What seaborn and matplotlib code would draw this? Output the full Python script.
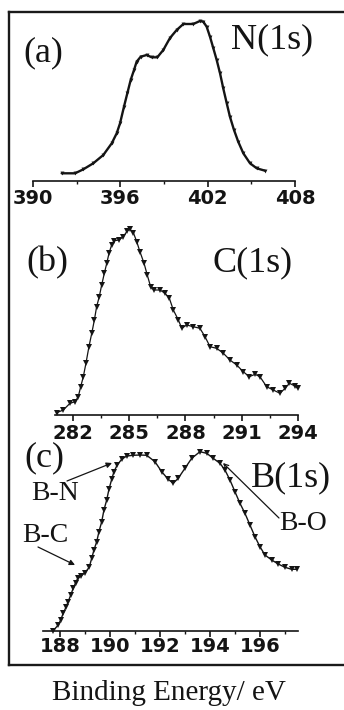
import numpy as np
import pandas as pd
import matplotlib
matplotlib.use("Agg")
import matplotlib.pyplot as plt
from matplotlib.ticker import MultipleLocator
import seaborn as sns

# ---------------- data ----------------
n1s_energy = [391.97, 392.89, 393.46, 394.14, 394.83, 395.41, 395.75, 395.98, 396.25, 396.48,
              396.71, 396.94, 397.12, 397.40, 397.81, 398.15, 398.54, 398.95, 399.41, 399.87,
              400.33, 401.01, 401.47, 401.70, 401.93, 402.16, 402.39, 402.62, 402.85, 403.07,
              403.31, 403.53, 403.81, 404.10, 404.45, 404.91, 405.37, 405.94]
n1s_counts = [7.7, 7.7, 11.7, 17.7, 26.0, 37.7, 47.7, 57.7, 74.3, 87.7,
              101.0, 111.0, 119.3, 124.3, 126.0, 123.7, 123.7, 131.0, 143.0, 151.0,
              157.0, 157.0, 160.0, 159.3, 154.3, 144.3, 132.7, 121.0, 107.7, 92.7,
              77.7, 64.3, 51.0, 39.3, 27.7, 17.7, 12.7, 10.3]

c1s_energy = [281.13, 281.48, 281.84, 282.11, 282.28, 282.41, 282.55, 282.69, 282.85, 283.00,
              283.14, 283.26, 283.40, 283.53, 283.67, 283.80, 283.92, 284.06, 284.19, 284.45,
              284.68, 284.90, 285.04, 285.22, 285.40, 285.57, 285.79, 285.96, 286.14, 286.32,
              286.64, 286.91, 287.14, 287.35, 287.62, 287.80, 288.06, 288.42, 288.77, 289.04,
              289.31, 289.66, 290.02, 290.37, 290.73, 291.08, 291.40, 291.71, 291.97, 292.33,
              292.68, 293.04, 293.31, 293.54, 293.84, 293.98]
c1s_counts = [2.3, 5.0, 11.7, 13.3, 18.3, 28.3, 38.3, 51.7, 68.3, 81.7,
              95.0, 108.3, 118.3, 130.0, 141.7, 151.7, 161.7, 170.0, 174.3, 175.0,
              178.3, 184.3, 185.7, 182.3, 173.3, 163.3, 151.7, 140.0, 128.3, 125.0,
              125.0, 121.7, 116.7, 105.0, 95.0, 86.7, 90.0, 88.3, 86.7, 78.3,
              68.3, 66.7, 61.7, 55.0, 50.0, 43.3, 38.3, 40.7, 38.3, 28.3,
              25.0, 21.7, 26.7, 31.7, 29.0, 26.7]

b1s_energy = [187.73, 187.93, 188.03, 188.13, 188.24, 188.33, 188.43, 188.53, 188.63, 188.71,
              188.84, 189.00, 189.17, 189.27, 189.36, 189.47, 189.56, 189.67, 189.76, 189.87,
              189.96, 190.07, 190.16, 190.29, 190.47, 190.67, 190.93, 191.20, 191.47, 191.80,
              192.07, 192.33, 192.53, 192.73, 193.00, 193.27, 193.60, 193.87, 194.13, 194.40,
              194.60, 194.80, 195.00, 195.20, 195.40, 195.60, 195.80, 196.00, 196.20, 196.47,
              196.73, 197.00, 197.27, 197.47]
b1s_counts = [0.3, 6.0, 11.0, 17.7, 23.7, 29.3, 36.0, 42.7, 48.3, 52.7,
              55.0, 58.3, 63.7, 72.7, 81.0, 89.3, 99.3, 109.3, 121.0, 131.0,
              141.7, 151.7, 159.3, 166.0, 171.7, 175.0, 175.7, 176.0, 175.7, 169.3,
              159.3, 151.7, 147.7, 152.7, 162.7, 172.7, 179.3, 177.7, 172.7, 167.7,
              161.0, 151.0, 139.3, 127.7, 117.7, 106.0, 94.3, 84.3, 76.0, 71.0,
              67.0, 63.7, 61.7, 61.7]

panel_letters = ["(a)", "(b)", "(c)"]
panel_titles = ["N(1s)", "C(1s)", "B(1s)"]
bond_labels = ["B-N", "B-C", "B-O"]
x_label = "Binding Energy/ eV"

# ---------------- style ----------------
sns.set_style("white")
plt.rcParams["font.family"] = ["Liberation Serif", "DejaVu Serif"]

W, H = 344, 710
fig = plt.figure(figsize=(W / 100, H / 100), dpi=100)


def fx(x):
    return x / W


def fy(y):
    return 1 - y / H


def add_ax(left, right, top, bottom):
    return fig.add_axes([fx(left), fy(bottom), (right - left) / W, (bottom - top) / H])


# outer frame (left, top, bottom; right side runs off the picture)
frame = add_ax(9, 360, 12, 665)
frame.set_xticks([])
frame.set_yticks([])
frame.patch.set_alpha(0)
for side in ["left", "top", "bottom"]:
    frame.spines[side].set_linewidth(1.7)
    frame.spines[side].set_color("#1a1a1a")
frame.spines["right"].set_visible(False)

ink = "#141414"
tick_font = dict(family=["DejaVu Sans"], weight="bold", size=14)

specs = [
    # energies, counts, (left, right, top, bottom), xlim, ylim, major, minor, pad, ms, lw
    (n1s_energy, n1s_counts, (33, 295, 12, 181), (390, 408), (0, 169), 6, 3, 1.0, 2.8, 1.7),
    (c1s_energy, c1s_counts, (55, 298, 200, 415), (281.04, 294.0), (0, 215), 3, 1.5, 2.2, 4.0, 0.9),
    (b1s_energy, b1s_counts, (42.7, 297.7, 425, 631), (187.31, 197.51), (0, 206), 2, 1, 0.0, 4.0, 1.0),
]

for energies, counts, box, xlim, ylim, major, minor, pad, ms, lw in specs:
    ax = add_ax(box[0], box[1], box[2], box[3])
    ax.patch.set_alpha(0)
    df = pd.DataFrame({"E": energies, "I": counts})
    sns.lineplot(data=df, x="E", y="I", ax=ax, color=ink, linewidth=lw,
                 marker="v", markersize=ms, markeredgewidth=0, markerfacecolor=ink,
                 sort=False, clip_on=False)
    ax.set_xlim(*xlim)
    ax.set_ylim(*ylim)
    ax.set_xlabel("")
    ax.set_ylabel("")
    ax.set_yticks([])
    for side in ["left", "top", "right"]:
        ax.spines[side].set_visible(False)
    ax.spines["bottom"].set_linewidth(1.2)
    ax.spines["bottom"].set_color(ink)
    ax.xaxis.set_major_locator(MultipleLocator(major))
    ax.xaxis.set_minor_locator(MultipleLocator(minor))
    ax.tick_params(axis="x", which="major", direction="out", length=4.5, width=1.2,
                   color=ink, pad=pad, bottom=True)
    ax.tick_params(axis="x", which="minor", direction="out", length=2.5, width=1.0,
                   color=ink, bottom=True)
    for lab in ax.get_xticklabels():
        lab.set_fontproperties(matplotlib.font_manager.FontProperties(**tick_font))
        lab.set_color(ink)

big = 26
fig.text(fx(43), fy(53), panel_letters[0], fontsize=big, ha="center", va="center", color=ink)
fig.text(fx(272), fy(40), panel_titles[0], fontsize=big, ha="center", va="center", color=ink)
fig.text(fx(47), fy(263), panel_letters[1], fontsize=big, ha="center", va="center", color=ink)
fig.text(fx(253), fy(263), panel_titles[1], fontsize=big, ha="center", va="center", color=ink)
fig.text(fx(44), fy(458), panel_letters[2], fontsize=big, ha="center", va="center", color=ink)
fig.text(fx(291), fy(478), panel_titles[2], fontsize=big, ha="center", va="center", color=ink)

small = 20
fig.text(fx(55), fy(494), bond_labels[0], fontsize=small, ha="center", va="center", color=ink)
fig.text(fx(45), fy(536), bond_labels[1], fontsize=small, ha="center", va="center", color=ink)
fig.text(fx(303), fy(524), bond_labels[2], fontsize=small, ha="center", va="center", color=ink)

arrow_kw = dict(arrowstyle="-|>", color=ink, lw=0.9, mutation_scale=8, shrinkA=0, shrinkB=0)
fig.add_artist(matplotlib.patches.FancyArrowPatch((fx(67), fy(481)), (fx(112), fy(463)),
                                                  transform=fig.transFigure, **arrow_kw))
fig.add_artist(matplotlib.patches.FancyArrowPatch((fx(38), fy(547)), (fx(75), fy(565)),
                                                  transform=fig.transFigure, **arrow_kw))
fig.add_artist(matplotlib.patches.FancyArrowPatch((fx(279), fy(518)), (fx(223), fy(463)),
                                                  transform=fig.transFigure,
                                                  **dict(arrow_kw, arrowstyle="->")))

fig.text(fx(169), fy(693), x_label, fontsize=21, ha="center", va="center", color=ink)

fig.savefig("out.png", dpi=100)
